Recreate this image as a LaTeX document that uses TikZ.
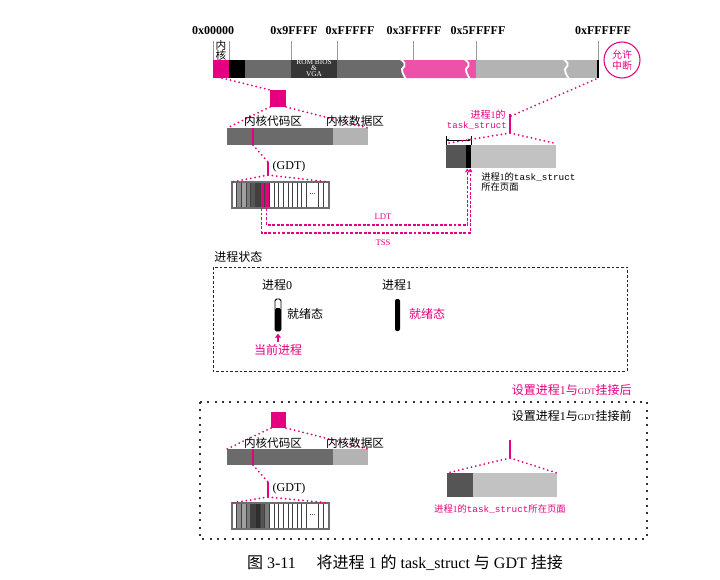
\documentclass[tikz,border=0pt]{standalone}
\usepackage{fontspec}
\setmainfont{Liberation Serif}
\setmonofont{Liberation Mono}
\newfontfamily\cjk{Noto Sans CJK SC}
\usetikzlibrary{arrows.meta}
\definecolor{mag}{HTML}{E4007F}
\definecolor{lmag}{HTML}{EE52A8}
\definecolor{dgray}{HTML}{6B6B6B}
\definecolor{lgray}{HTML}{B3B3B3}
\definecolor{romc}{HTML}{363636}
\definecolor{pgdark}{HTML}{555555}
\definecolor{pglight}{HTML}{C2C2C2}
\definecolor{tick}{HTML}{9A9A9A}
\definecolor{gA}{HTML}{8C8C8C}
\definecolor{gB}{HTML}{A0A0A0}
\definecolor{gC}{HTML}{7A7A7A}
\definecolor{gD}{HTML}{555555}
\definecolor{gE}{HTML}{404040}
\definecolor{gF}{HTML}{2E2E2E}
\definecolor{tablegray}{HTML}{6E6E6E}
\definecolor{frame}{HTML}{333333}
\newcommand\gdtrow[3]{%
  \foreach \c [count=\i from 0] in {#3} {\fill[\c] ({232+\i*4.65},#2) rectangle ({232+(\i+1)*4.65},#2+26);}
  \foreach \i in {1,...,16} {\draw[cellline] ({232+\i*4.65},#2) -- ({232+\i*4.65},#2+26);}
  \draw[cellline] (318.5,#2) -- (318.5,#2+26);
  \draw[cellline] (323.7,#2) -- (323.7,#2+26);
  \node[font=\fontsize{6}{6}\selectfont, inner sep=0pt] at (312.5,#2+12) {...};
  \node[seg, draw=tablegray, line width=1pt, bw=97, bh=26] (#1) at (232,#2) {};
}
\newcommand\wavepts[1]{(#1-1,59.5) (#1+2.5,63) (#1+2.5,66) (#1,69) (#1+0.5,72.5) (#1+3.5,78.5)}
\begin{document}
\begin{tikzpicture}[x=0.75pt,y=-0.75pt,
  seg/.style={anchor=north west, inner sep=0pt, outer sep=0pt},
  bw/.style={minimum width=#1*0.75pt},
  bh/.style={minimum height=#1*0.75pt},
  pdot/.style={mag, line width=1.5pt, line cap=round, dash pattern=on 0pt off 3.3pt},
  pdash/.style={mag, line width=0.8pt, dash pattern=on 2.2pt off 1.2pt},
  pline/.style={mag, line width=0.9pt},
  tickl/.style={tick, line width=0.6pt},
  cellline/.style={black!75, line width=0.4pt},
  hex/.style={font=\bfseries\fontsize{9}{9}\selectfont, inner sep=0pt},
  cn/.style={font=\cjk\fontsize{8.7}{9}\selectfont, inner sep=0pt},
  cnb/.style={font=\cjk\fontsize{9}{9}\selectfont, inner sep=0pt},
  small/.style={font=\cjk\fontsize{7}{8}\selectfont, inner sep=0pt},
  wave/.style={white, line width=1.4pt}
]
\useasboundingbox (0,0) rectangle (720,579);

% ---------- top memory bar ----------
\node[seg, fill=mag, bw=16, bh=18] (kern) at (213,60) {};
\node[seg, fill=black, bw=16, bh=18] (blk) at (229,60) {};
\node[seg, fill=dgray, bw=46, bh=18] (low) at (245,60) {};
\node[seg, fill=romc, bw=46, bh=18] (rom) at (291,60) {};
\node[seg, fill=dgray, bw=69, bh=18] (mid) at (337,60) {};
\fill[lmag] plot[smooth] coordinates {(402,60) (405.5,63) (405.5,66) (403,69) (403.5,72.5) (406.5,78)} -- (476,78) -- (476,60) -- cycle;
\draw[wave] plot[smooth] coordinates {\wavepts{402}};
\node[seg, fill=lgray, bw=121, bh=18] (ext) at (476,60) {};
\node[seg, fill=black, bw=1.5, bh=18] (endb) at (597,60) {};
\draw[wave] plot[smooth] coordinates {\wavepts{466}};
\draw[wave] plot[smooth] coordinates {\wavepts{565}};

\node[font=\fontsize{5.5}{4.5}\selectfont, text=white, align=center, inner sep=0pt] (romt) at (314,68.5) {ROM BIOS\\\&\\VGA};

\foreach \x in {213,229,291,337,413,476,598} \draw[tickl] (\x,41) -- (\x,60);
\node[hex] (h0) at (213,30.5) {0x00000};
\node[hex] (h1) at (294,30.5) {0x9FFFF};
\node[hex] (h2) at (350,30.5) {0xFFFFF};
\node[hex] (h3) at (414,30.5) {0x3FFFFF};
\node[hex] (h4) at (478,30.5) {0x5FFFFF};
\node[hex] (h5) at (603,30.5) {0xFFFFFF};
\node[font=\cjk\fontsize{8}{8}\selectfont, inner sep=0pt] (nei) at (221,45.5) {内};
\node[font=\cjk\fontsize{8}{8}\selectfont, inner sep=0pt] (he) at (221,55) {核};

\node[circle, draw=mag, line width=0.8pt, minimum size=27pt, inner sep=0pt, text=mag,
      font=\cjk\fontsize{7.5}{8.5}\selectfont, align=center] (irq) at (622,60) {允许\\中断};

% ---------- upper left: kernel ----------
\coordinate (kbot) at (222,78);
\node[seg, fill=mag, bw=16, bh=17] (sq1) at (270,90) {};
\draw[pdot] (kbot) -- (sq1.north west);
\node[seg, fill=dgray, bw=106, bh=17] (code1) at (227,128) {};
\node[seg, fill=lgray, bw=35, bh=17] (data1) at (333,128) {};
\draw[pdot] (sq1.south west) -- (code1.north west);
\draw[pdot] (sq1.south east) -- (data1.north east);
\node[cn] (c1l) at (273,121.5) {内核代码区};
\node[cn] (d1l) at (355,121.5) {内核数据区};
\draw[pline] (253,128) -- (253,145);
\coordinate (gsel1) at (253,145);
\coordinate (gtop1) at (268,162);
\coordinate (gbot1) at (268,175);
\draw[pdot] (gsel1) -- (gtop1);
\draw[pline] (gtop1) -- (gbot1);
\node[font=\fontsize{9}{9}\selectfont, inner sep=0pt] (gdtl1) at (289,166.5) {(GDT)};
\gdtrow{gdt1}{182}{white,gA,gB,gC,gD,gE,mag,mag,white,white,white,white,white,white,white,white}
\draw[pdot] (gbot1) -- (gdt1.north west);
\draw[pdot] (gbot1) -- (gdt1.north east);

% ---------- upper right: task_struct page ----------
\node[seg, fill=pgdark, bw=20, bh=23] (pg1d) at (446,145) {};
\node[seg, fill=black, bw=5, bh=23] (pg1b) at (466,145) {};
\node[seg, fill=pglight, bw=85, bh=23] (pg1l) at (471,145) {};
\draw[line width=0.5pt] (446,136) -- (446,145);
\draw[line width=0.5pt] (471,136) -- (471,145);
\draw[line width=0.5pt, {Stealth[length=2.5pt,width=2pt]}-{Stealth[length=2.5pt,width=2pt]}] (446,140) -- (471,140);
\coordinate (ts1top) at (510,114);
\coordinate (ts1bot) at (510,133);
\draw[pline] (ts1top) -- (ts1bot);
\draw[pdot] (ts1bot) -- (446,143.5);
\draw[pdot] (ts1bot) -- (556,143.5);
\draw[pdot] (511,116) -- (endb.south east);
\node[font=\cjk\fontsize{7.5}{8}\selectfont, text=mag, inner sep=0pt, anchor=east] (ts1a) at (506,114.5) {进程{\rmfamily 1}的};
\node[font=\ttfamily\fontsize{6.8}{8}\selectfont, text=mag, inner sep=0pt, anchor=east] (ts1b) at (507,125.5) {task\_struct};
\node[small, anchor=west] (pg1t1) at (481,177.5) {进程{\rmfamily 1}的{\ttfamily task\_struct}};
\node[small, anchor=west] (pg1t2) at (481,187) {所在页面};

% LDT / TSS links
\coordinate (ldtS) at (266.5,208);
\coordinate (tssS) at (261.7,208);
\coordinate (ldtE) at (467.3,168.5);
\coordinate (tssE) at (470.3,168.5);
\draw[pdash, -{Straight Barb[length=2pt,width=2.6pt]}] (ldtS) -- ++(0,17) -| (ldtE);
\draw[pdash, -{Straight Barb[length=2pt,width=2.6pt]}] (tssS) -- ++(0,25) -| (tssE);
\node[font=\fontsize{6.5}{7}\selectfont, text=mag, inner sep=0pt] (ldtl) at (383,217) {LDT};
\node[font=\fontsize{6.5}{7}\selectfont, text=mag, inner sep=0pt] (tssl) at (383,243) {TSS};

% ---------- process state ----------
\node[cnb, anchor=west] (pst) at (214,257) {进程状态};
\draw[black!85, line width=0.6pt, dash pattern=on 2pt off 1.5pt] (213,267) rectangle (627,371);
\node[cnb] (p0) at (277,285) {进程{\rmfamily 0}};
\node[cnb] (p1) at (397,285) {进程{\rmfamily 1}};
\node[seg, draw, line width=0.7pt, rounded corners=1.2pt, bw=6, bh=32] (p0bar) at (275,299) {};
\fill[black, rounded corners=1.2pt] (275,308) rectangle (281,331);
\node[seg, fill=black, rounded corners=1.5pt, bw=5, bh=32] (p1bar) at (395,299) {};
\node[cnb] (p0s) at (305,313.5) {就绪态};
\node[cnb, text=mag] (p1s) at (427,313.5) {就绪态};
\node[cnb, text=mag] (cur) at (278,350) {当前进程};
\draw[mag, line width=1.3pt, -{Triangle[length=3pt,width=4.5pt]}] ([yshift=1.5pt]cur.north) -- ([yshift=-2pt]p0bar.south);

% ---------- lower section ----------
\node[cnb, text=mag, anchor=east] (after) at (632,390) {设置进程{\rmfamily 1}与{\rmfamily\fontsize{6.5}{7}\selectfont GDT}挂接后};
\draw[frame, line width=1.4pt, dash pattern=on 1.4pt off 4.1pt] (200,402) rectangle (647,539);
\node[cnb, anchor=east] (before) at (632,416) {设置进程{\rmfamily 1}与{\rmfamily\fontsize{6.5}{7}\selectfont GDT}挂接前};

\node[seg, fill=mag, bw=15, bh=16] (sq2) at (271,412) {};
\node[seg, fill=dgray, bw=106, bh=16] (code2) at (227,449) {};
\node[seg, fill=lgray, bw=35, bh=16] (data2) at (333,449) {};
\draw[pdot] (sq2.south west) -- (code2.north west);
\draw[pdot] (sq2.south east) -- (data2.north east);
\node[cn] (c2l) at (273,443.5) {内核代码区};
\node[cn] (d2l) at (355,443.5) {内核数据区};
\draw[pline] (253,449) -- (253,465);
\coordinate (gsel2) at (253,465);
\coordinate (gtop2) at (268,482);
\coordinate (gbot2) at (268,497);
\draw[pdot] (gsel2) -- (gtop2);
\draw[pline] (gtop2) -- (gbot2);
\node[font=\fontsize{9}{9}\selectfont, inner sep=0pt] (gdtl2) at (289,489) {(GDT)};
\gdtrow{gdt2}{503}{white,gA,gB,gC,gE,gF,gD,gC,white,white,white,white,white,white,white,white}
\draw[pdot] (gbot2) -- (gdt2.north west);
\draw[pdot] (gbot2) -- (gdt2.north east);

\node[seg, fill=pgdark, bw=26, bh=24] (pg2d) at (447,473) {};
\node[seg, fill=pglight, bw=84, bh=24] (pg2l) at (473,473) {};
\coordinate (ts2top) at (510,440);
\coordinate (ts2bot) at (510,458);
\draw[pline] (ts2top) -- (ts2bot);
\draw[pdot] (ts2bot) -- (pg2d.north west);
\draw[pdot] (ts2bot) -- (pg2l.north east);
\node[small, text=mag] (pg2t) at (500,509) {进程{\rmfamily 1}的{\ttfamily task\_struct}所在页面};

% ---------- caption ----------
\node[font=\fontsize{12}{13}\selectfont, inner sep=0pt] (cap) at (405,563)
  {{\cjk 图} 3-11\hspace{1.3em}{\cjk 将进程} 1 {\cjk 的} task\_struct {\cjk 与} GDT {\cjk 挂接}};
\end{tikzpicture}
\end{document}
